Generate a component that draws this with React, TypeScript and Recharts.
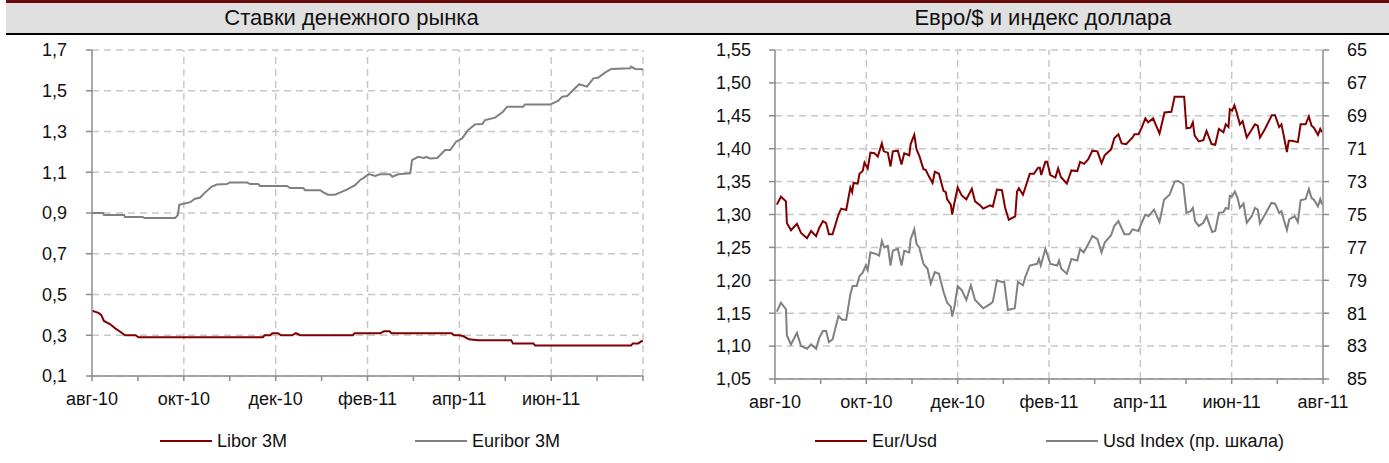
import React from 'react';
import { LineChart, Line, XAxis, YAxis, CartesianGrid, ReferenceLine } from 'recharts';

const FONT = "'Liberation Sans Narrow', 'Arial Narrow', 'Liberation Sans', Arial, sans-serif";
const RED = '#800000';
const GRAY = '#808080';
const GRID = '#c8c8c8';
const AXIS = '#8c8c8c';

// x = months since 1 Aug 2010
const monthTicks = [0, 1, 2, 3, 4, 5, 6, 7, 8, 9, 10, 11, 12];
const monthLabels = ['авг-10', '', 'окт-10', '', 'дек-10', '', 'фев-11', '', 'апр-11', '', 'июн-11', '', 'авг-11'];
const gridMonths = [2, 4, 6, 8, 10, 12];

const rateTicks = [0.1, 0.3, 0.5, 0.7, 0.9, 1.1, 1.3, 1.5, 1.7];
const eurTicks = [1.05, 1.1, 1.15, 1.2, 1.25, 1.3, 1.35, 1.4, 1.45, 1.5, 1.55];
const usdTicks = [65, 67, 69, 71, 73, 75, 77, 79, 81, 83, 85];

const liborT = [0, 0.14, 0.2, 0.26, 0.39, 0.5, 0.63, 0.72, 0.95, 1.01, 3.72, 3.76, 3.88, 3.93, 4.05, 4.12, 4.36, 4.44, 4.54, 5.68, 5.72, 6.28, 6.36, 6.48, 6.52, 7.83, 7.89, 8.01, 8.09, 8.21, 8.41, 9.13, 9.17, 9.61, 9.65, 11.74, 11.78, 11.9, 11.96, 12];
const liborV = [0.42, 0.41, 0.4, 0.37, 0.355, 0.335, 0.315, 0.3, 0.3, 0.29, 0.29, 0.3, 0.3, 0.31, 0.31, 0.3, 0.3, 0.31, 0.3, 0.3, 0.31, 0.31, 0.32, 0.32, 0.31, 0.31, 0.3, 0.3, 0.295, 0.28, 0.275, 0.275, 0.26, 0.26, 0.25, 0.25, 0.26, 0.26, 0.27, 0.27];

const euriborT = [0, 0.24, 0.26, 0.7, 0.72, 1.1, 1.15, 1.81, 1.87, 1.9, 2.14, 2.24, 2.35, 2.46, 2.61, 2.72, 2.94, 3.0, 3.38, 3.44, 3.62, 3.66, 4.25, 4.31, 4.6, 4.64, 4.97, 5.03, 5.14, 5.29, 5.4, 5.56, 5.73, 5.84, 5.9, 6.03, 6.17, 6.27, 6.49, 6.54, 6.67, 6.93, 6.97, 7.1, 7.23, 7.28, 7.36, 7.52, 7.69, 7.8, 7.93, 8.06, 8.19, 8.34, 8.5, 8.56, 8.78, 8.95, 9.04, 9.39, 9.43, 9.98, 10.15, 10.24, 10.35, 10.48, 10.61, 10.78, 10.92, 11.02, 11.18, 11.31, 11.72, 11.74, 11.83, 12];
const euriborV = [0.9, 0.9, 0.89, 0.89, 0.88, 0.88, 0.875, 0.875, 0.89, 0.94, 0.953, 0.97, 0.975, 1.0, 1.03, 1.04, 1.042, 1.05, 1.05, 1.042, 1.042, 1.033, 1.033, 1.023, 1.023, 1.012, 1.012, 1.003, 0.99, 0.99, 1.0, 1.016, 1.037, 1.062, 1.07, 1.091, 1.082, 1.09, 1.09, 1.078, 1.09, 1.095, 1.16, 1.176, 1.17, 1.176, 1.168, 1.17, 1.209, 1.209, 1.25, 1.266, 1.307, 1.335, 1.337, 1.356, 1.368, 1.397, 1.422, 1.422, 1.433, 1.433, 1.45, 1.471, 1.474, 1.504, 1.532, 1.52, 1.561, 1.564, 1.59, 1.607, 1.61, 1.618, 1.607, 1.605];

const eurUsdT = [0.04, 0.13, 0.24, 0.26, 0.35, 0.48, 0.57, 0.7, 0.79, 0.9, 0.97, 1.05, 1.12, 1.18, 1.26, 1.39, 1.45, 1.56, 1.65, 1.69, 1.72, 1.81, 1.85, 1.92, 1.96, 2.03, 2.09, 2.18, 2.25, 2.34, 2.38, 2.47, 2.53, 2.58, 2.69, 2.77, 2.83, 2.94, 2.97, 3.05, 3.1, 3.16, 3.25, 3.3, 3.37, 3.45, 3.5, 3.59, 3.69, 3.74, 3.77, 3.85, 3.88, 3.93, 4.0, 4.09, 4.19, 4.31, 4.38, 4.49, 4.56, 4.71, 4.77, 4.86, 4.97, 5.04, 5.12, 5.26, 5.3, 5.34, 5.43, 5.58, 5.67, 5.76, 5.8, 5.83, 5.92, 5.96, 6.03, 6.14, 6.2, 6.26, 6.39, 6.49, 6.62, 6.68, 6.77, 6.86, 6.95, 7.06, 7.15, 7.22, 7.36, 7.43, 7.52, 7.59, 7.69, 7.83, 7.87, 7.96, 8.03, 8.11, 8.17, 8.28, 8.42, 8.53, 8.68, 8.75, 8.96, 9.01, 9.1, 9.15, 9.19, 9.28, 9.38, 9.45, 9.56, 9.64, 9.72, 9.82, 9.87, 9.93, 9.96, 10.01, 10.06, 10.11, 10.18, 10.24, 10.33, 10.43, 10.51, 10.57, 10.62, 10.73, 10.88, 10.95, 11.04, 11.09, 11.14, 11.21, 11.25, 11.32, 11.45, 11.51, 11.62, 11.69, 11.75, 11.8, 11.89, 11.94, 11.98];
const eurUsdV = [1.315, 1.327, 1.32, 1.287, 1.276, 1.286, 1.272, 1.264, 1.275, 1.267, 1.28, 1.29, 1.287, 1.27, 1.27, 1.3, 1.309, 1.307, 1.341, 1.334, 1.348, 1.347, 1.362, 1.366, 1.379, 1.37, 1.394, 1.393, 1.388, 1.408, 1.396, 1.394, 1.373, 1.396, 1.397, 1.376, 1.393, 1.39, 1.407, 1.421, 1.399, 1.389, 1.369, 1.368, 1.358, 1.348, 1.365, 1.362, 1.336, 1.334, 1.323, 1.315, 1.3, 1.318, 1.341, 1.329, 1.323, 1.339, 1.32, 1.314, 1.309, 1.314, 1.312, 1.338, 1.337, 1.31, 1.292, 1.297, 1.335, 1.34, 1.33, 1.362, 1.362, 1.371, 1.371, 1.36, 1.38, 1.38, 1.36, 1.356, 1.37, 1.357, 1.347, 1.367, 1.366, 1.38, 1.377, 1.384, 1.397, 1.396, 1.378, 1.39, 1.399, 1.416, 1.422, 1.408, 1.407, 1.417, 1.422, 1.422, 1.432, 1.446, 1.44, 1.446, 1.423, 1.455, 1.456, 1.479, 1.479, 1.431, 1.432, 1.44, 1.42, 1.411, 1.413, 1.427, 1.407, 1.406, 1.43, 1.425, 1.437, 1.433, 1.46, 1.458, 1.466, 1.455, 1.437, 1.442, 1.417, 1.428, 1.437, 1.435, 1.417, 1.43, 1.451, 1.451, 1.433, 1.437, 1.42, 1.395, 1.412, 1.412, 1.41, 1.437, 1.437, 1.449, 1.435, 1.432, 1.421, 1.43, 1.425];

const usdIdxT = [0.04, 0.13, 0.24, 0.26, 0.35, 0.48, 0.57, 0.7, 0.79, 0.9, 0.97, 1.05, 1.12, 1.18, 1.26, 1.39, 1.47, 1.56, 1.65, 1.7, 1.79, 1.85, 1.92, 1.99, 2.03, 2.09, 2.21, 2.28, 2.34, 2.39, 2.47, 2.53, 2.58, 2.69, 2.77, 2.83, 2.94, 2.97, 3.05, 3.1, 3.16, 3.25, 3.34, 3.41, 3.5, 3.59, 3.69, 3.77, 3.85, 3.88, 3.93, 4.0, 4.09, 4.19, 4.29, 4.38, 4.49, 4.56, 4.71, 4.77, 4.86, 4.97, 5.02, 5.1, 5.25, 5.32, 5.43, 5.48, 5.58, 5.74, 5.78, 5.82, 5.92, 5.96, 6.03, 6.18, 6.22, 6.27, 6.39, 6.49, 6.62, 6.68, 6.76, 6.86, 6.95, 7.06, 7.15, 7.22, 7.36, 7.43, 7.52, 7.65, 7.76, 7.83, 7.96, 8.03, 8.11, 8.18, 8.3, 8.42, 8.52, 8.64, 8.75, 8.83, 8.94, 9.01, 9.1, 9.15, 9.2, 9.28, 9.38, 9.45, 9.57, 9.64, 9.72, 9.82, 9.87, 9.93, 9.96, 10.01, 10.07, 10.13, 10.18, 10.26, 10.33, 10.44, 10.51, 10.57, 10.62, 10.77, 10.87, 10.95, 11.04, 11.09, 11.14, 11.21, 11.26, 11.38, 11.45, 11.51, 11.62, 11.69, 11.75, 11.8, 11.89, 11.94, 11.98];
const usdIdxV = [80.9, 80.36, 80.76, 82.35, 82.9, 82.2, 83.0, 83.16, 82.9, 83.16, 82.5, 82.08, 82.08, 82.76, 82.6, 81.17, 81.4, 81.4, 79.85, 79.35, 79.35, 78.75, 78.54, 78.08, 78.38, 77.3, 77.4, 77.5, 76.6, 77.0, 76.9, 78.1, 77.2, 77.08, 78.1, 77.2, 77.3, 76.5, 75.9, 76.8, 77.0, 78.0, 78.3, 79.2, 78.5, 78.6, 79.7, 80.37, 80.6, 81.2, 80.6, 79.35, 79.6, 80.2, 79.3, 80.2, 80.5, 80.7, 80.45, 80.3, 79.0, 79.1, 79.1, 80.8, 80.7, 79.1, 79.3, 78.8, 78.1, 78.0, 77.7, 78.1, 77.1, 77.4, 78.0, 78.1, 77.8, 78.3, 78.6, 77.7, 77.8, 77.1, 77.3, 76.8, 76.3, 76.5, 77.3, 76.7, 76.26, 75.7, 75.4, 76.2, 76.2, 75.9, 76.0, 75.5, 75.0, 75.1, 74.7, 75.46, 74.1, 73.8, 73.0, 72.96, 73.16, 74.9, 74.8, 74.6, 75.4, 75.7, 75.5, 75.1, 76.06, 76.0, 74.9, 74.86, 74.6, 74.66, 73.86, 73.9, 73.6, 74.0, 74.6, 74.34, 75.5, 75.1, 74.6, 74.7, 75.54, 74.8, 74.3, 74.34, 74.9, 74.8, 75.3, 75.94, 75.3, 75.1, 75.46, 74.14, 74.06, 73.46, 74.0, 74.1, 74.5, 74.06, 74.4];

const zip = (ts: number[], vs: number[]) => ts.map((t, i) => ({ t, v: vs[i] }));
const liborData = zip(liborT, liborV);
const euriborData = zip(euriborT, euriborV);
const eurUsdData = zip(eurUsdT, eurUsdV);
const usdIdxData = zip(usdIdxT, usdIdxV);

const tickStyle = { fontSize: 18, fill: '#111', fontFamily: FONT };
const fmtComma = (d: number) => (v: number) => v.toFixed(d).replace('.', ',');

const LegendItem = ({ x, color, label }: { x: number; color: string; label: string }) => (
  <div style={{ position: 'absolute', left: x, top: 429, height: 24, display: 'flex', alignItems: 'center', fontFamily: FONT, fontSize: 18, color: '#111', whiteSpace: 'nowrap' }}>
    <div style={{ width: 52, height: 2, background: color, marginRight: 5 }} />
    <span>{label}</span>
  </div>
);

export default function App() {
  return (
    <div style={{ position: 'absolute', left: 0, top: 0, width: 1389, height: 463, background: '#fff', overflow: 'hidden' }}>
      <div style={{ position: 'absolute', left: 6, top: 0, width: 1383, height: 30, borderTop: '3px solid #6b0a0a', borderBottom: '2px solid #000', background: '#e0e0e0' }} />
      <div style={{ position: 'absolute', left: 6, top: 3, width: 691, height: 30, lineHeight: '30px', textAlign: 'center', fontFamily: FONT, fontSize: 22, color: '#111' }}>Ставки денежного рынка</div>
      <div style={{ position: 'absolute', left: 697, top: 3, width: 692, height: 30, lineHeight: '30px', textAlign: 'center', fontFamily: FONT, fontSize: 22, color: '#111' }}>Евро/$ и индекс доллара</div>

      <div style={{ position: 'absolute', left: 0, top: 0 }}>
        <LineChart width={695} height={463} margin={{ top: 50, right: 52, bottom: 47, left: 0 }}>
          <CartesianGrid vertical={false} stroke={GRID} strokeDasharray="7 5" strokeWidth={1.5} />
          <XAxis type="number" dataKey="t" domain={[0, 12]} ticks={monthTicks} interval={0}
            tickFormatter={(v: number) => (v === 12 ? '' : monthLabels[v])}
            tick={tickStyle} tickSize={5} tickMargin={11} height={40}
            axisLine={{ stroke: AXIS, strokeWidth: 1.5 }} tickLine={{ stroke: AXIS, strokeWidth: 1.5 }} allowDataOverflow />
          <YAxis type="number" domain={[0.1, 1.7]} ticks={rateTicks} interval={0} width={92}
            tickFormatter={fmtComma(1)} tick={tickStyle} tickSize={6} tickMargin={19}
            axisLine={{ stroke: AXIS, strokeWidth: 1.5 }} tickLine={{ stroke: AXIS, strokeWidth: 1.5 }} />
          {gridMonths.map((m) => (
            <ReferenceLine key={m} x={m} stroke={GRID} strokeDasharray="7 5" strokeWidth={1.5} />
          ))}
          <Line data={liborData} dataKey="v" type="linear" stroke={RED} strokeWidth={2} dot={false} isAnimationActive={false} />
          <Line data={euriborData} dataKey="v" type="linear" stroke={GRAY} strokeWidth={2} dot={false} isAnimationActive={false} />
        </LineChart>
      </div>

      <div style={{ position: 'absolute', left: 697, top: 0 }}>
        <LineChart width={692} height={463} margin={{ top: 50, right: 0, bottom: 44, left: 0 }}>
          <CartesianGrid yAxisId="left" vertical={false} stroke={GRID} strokeDasharray="7 5" strokeWidth={1.5} />
          <XAxis type="number" dataKey="t" domain={[0, 12]} ticks={monthTicks} interval={0}
            tickFormatter={(v: number) => monthLabels[v]}
            tick={tickStyle} tickSize={5} tickMargin={11} height={40}
            axisLine={{ stroke: AXIS, strokeWidth: 1.5 }} tickLine={{ stroke: AXIS, strokeWidth: 1.5 }} allowDataOverflow />
          <YAxis yAxisId="left" type="number" domain={[1.05, 1.55]} ticks={eurTicks} interval={0} width={78}
            tickFormatter={fmtComma(2)} tick={tickStyle} tickSize={6} tickMargin={18}
            axisLine={{ stroke: AXIS, strokeWidth: 1.5 }} tickLine={{ stroke: AXIS, strokeWidth: 1.5 }} />
          <YAxis yAxisId="right" orientation="right" reversed type="number" domain={[65, 85]} ticks={usdTicks} interval={0} width={66}
            tick={tickStyle} tickSize={6} tickMargin={18}
            axisLine={{ stroke: AXIS, strokeWidth: 1.5 }} tickLine={{ stroke: AXIS, strokeWidth: 1.5 }} />
          {gridMonths.slice(0, 5).map((m) => (
            <ReferenceLine key={m} yAxisId="left" x={m} stroke={GRID} strokeDasharray="7 5" strokeWidth={1.5} />
          ))}
          <Line yAxisId="left" data={eurUsdData} dataKey="v" type="linear" stroke={RED} strokeWidth={2} dot={false} isAnimationActive={false} />
          <Line yAxisId="right" data={usdIdxData} dataKey="v" type="linear" stroke={GRAY} strokeWidth={2} dot={false} isAnimationActive={false} />
        </LineChart>
      </div>

      <LegendItem x={160} color={RED} label="Libor 3M" />
      <LegendItem x={415} color={GRAY} label="Euribor 3M" />
      <LegendItem x={815} color={RED} label="Eur/Usd" />
      <LegendItem x={1046} color={GRAY} label="Usd Index (пр. шкала)" />
    </div>
  );
}
